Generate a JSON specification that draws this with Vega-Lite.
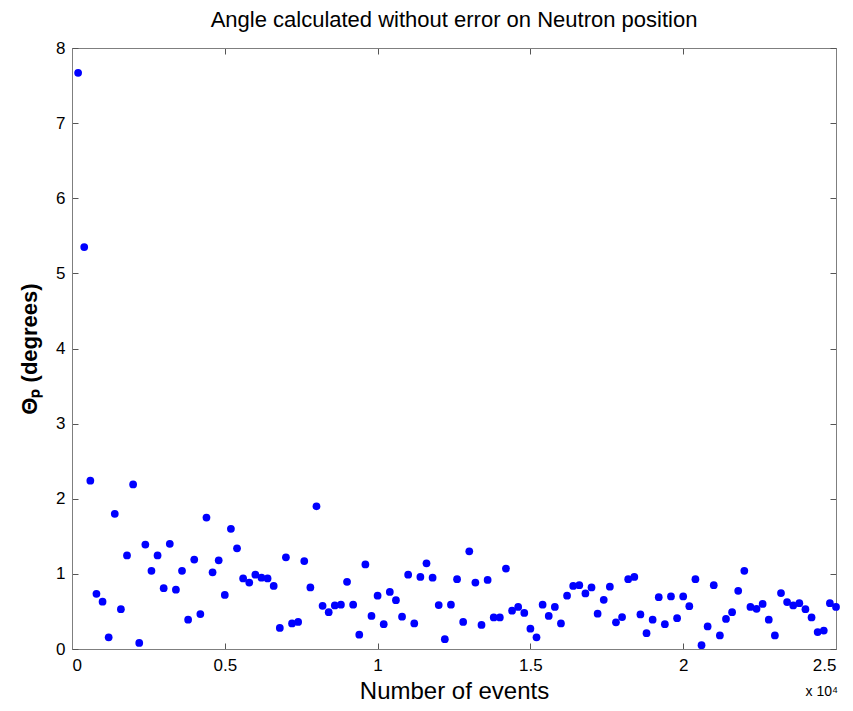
{
  "$schema": "https://vega.github.io/schema/vega-lite/v6.json",
  "width": 764,
  "height": 601,
  "autosize": {"type": "none"},
  "padding": {"left": 72, "top": 48, "right": 17, "bottom": 62},
  "background": "white",
  "config": {
    "font": "Liberation Sans",
    "view": {"stroke": "#7f7f7f", "strokeWidth": 1},
    "axis": {
      "grid": false,
      "domainColor": "#7f7f7f",
      "tickColor": "#555555",
      "tickSize": -6,
      "labelColor": "black",
      "labelFont": "Liberation Sans",
      "labelFontSize": 17,
      "titleColor": "black",
      "titleFont": "Liberation Sans"
    }
  },
  "title": {
    "text": "Angle calculated without error on Neutron position",
    "fontSize": 22,
    "fontWeight": "normal",
    "font": "Liberation Sans",
    "color": "black",
    "offset": 7,
    "anchor": "middle"
  },
  "data": {
    "values": [
      {"events": 200, "theta": 7.67}, {"events": 400, "theta": 5.35}, {"events": 600, "theta": 2.24}, {"events": 800, "theta": 0.735}, {"events": 1000, "theta": 0.63},
      {"events": 1200, "theta": 0.155}, {"events": 1400, "theta": 1.80}, {"events": 1600, "theta": 0.53}, {"events": 1800, "theta": 1.245}, {"events": 2000, "theta": 2.19},
      {"events": 2200, "theta": 0.08}, {"events": 2400, "theta": 1.39}, {"events": 2600, "theta": 1.04}, {"events": 2800, "theta": 1.245}, {"events": 3000, "theta": 0.81},
      {"events": 3200, "theta": 1.40}, {"events": 3400, "theta": 0.79}, {"events": 3600, "theta": 1.04}, {"events": 3800, "theta": 0.39}, {"events": 4000, "theta": 1.19},
      {"events": 4200, "theta": 0.465}, {"events": 4400, "theta": 1.75}, {"events": 4600, "theta": 1.02}, {"events": 4800, "theta": 1.18}, {"events": 5000, "theta": 0.72},
      {"events": 5200, "theta": 1.60}, {"events": 5400, "theta": 1.34}, {"events": 5600, "theta": 0.94}, {"events": 5800, "theta": 0.885}, {"events": 6000, "theta": 0.99},
      {"events": 6200, "theta": 0.95}, {"events": 6400, "theta": 0.94}, {"events": 6600, "theta": 0.84}, {"events": 6800, "theta": 0.28}, {"events": 7000, "theta": 1.22},
      {"events": 7200, "theta": 0.34}, {"events": 7400, "theta": 0.36}, {"events": 7600, "theta": 1.17}, {"events": 7800, "theta": 0.82}, {"events": 8000, "theta": 1.90},
      {"events": 8200, "theta": 0.575}, {"events": 8400, "theta": 0.49}, {"events": 8600, "theta": 0.58}, {"events": 8800, "theta": 0.59}, {"events": 9000, "theta": 0.895},
      {"events": 9200, "theta": 0.59}, {"events": 9400, "theta": 0.19}, {"events": 9600, "theta": 1.125}, {"events": 9800, "theta": 0.44}, {"events": 10000, "theta": 0.71},
      {"events": 10200, "theta": 0.33}, {"events": 10400, "theta": 0.76}, {"events": 10600, "theta": 0.65}, {"events": 10800, "theta": 0.43}, {"events": 11000, "theta": 0.99},
      {"events": 11200, "theta": 0.34}, {"events": 11400, "theta": 0.96}, {"events": 11600, "theta": 1.14}, {"events": 11800, "theta": 0.95}, {"events": 12000, "theta": 0.585},
      {"events": 12200, "theta": 0.13}, {"events": 12400, "theta": 0.59}, {"events": 12600, "theta": 0.93}, {"events": 12800, "theta": 0.36}, {"events": 13000, "theta": 1.30},
      {"events": 13200, "theta": 0.885}, {"events": 13400, "theta": 0.32}, {"events": 13600, "theta": 0.92}, {"events": 13800, "theta": 0.42}, {"events": 14000, "theta": 0.42},
      {"events": 14200, "theta": 1.07}, {"events": 14400, "theta": 0.51}, {"events": 14600, "theta": 0.56}, {"events": 14800, "theta": 0.48}, {"events": 15000, "theta": 0.27},
      {"events": 15200, "theta": 0.155}, {"events": 15400, "theta": 0.59}, {"events": 15600, "theta": 0.44}, {"events": 15800, "theta": 0.56}, {"events": 16000, "theta": 0.34},
      {"events": 16200, "theta": 0.71}, {"events": 16400, "theta": 0.84}, {"events": 16600, "theta": 0.85}, {"events": 16800, "theta": 0.74}, {"events": 17000, "theta": 0.82},
      {"events": 17200, "theta": 0.47}, {"events": 17400, "theta": 0.655}, {"events": 17600, "theta": 0.83}, {"events": 17800, "theta": 0.355}, {"events": 18000, "theta": 0.425},
      {"events": 18200, "theta": 0.93}, {"events": 18400, "theta": 0.96}, {"events": 18600, "theta": 0.46}, {"events": 18800, "theta": 0.21}, {"events": 19000, "theta": 0.39},
      {"events": 19200, "theta": 0.69}, {"events": 19400, "theta": 0.33}, {"events": 19600, "theta": 0.70}, {"events": 19800, "theta": 0.41}, {"events": 20000, "theta": 0.70},
      {"events": 20200, "theta": 0.57}, {"events": 20400, "theta": 0.93}, {"events": 20600, "theta": 0.05}, {"events": 20800, "theta": 0.30}, {"events": 21000, "theta": 0.85},
      {"events": 21200, "theta": 0.18}, {"events": 21400, "theta": 0.40}, {"events": 21600, "theta": 0.49}, {"events": 21800, "theta": 0.775}, {"events": 22000, "theta": 1.04},
      {"events": 22200, "theta": 0.56}, {"events": 22400, "theta": 0.535}, {"events": 22600, "theta": 0.60}, {"events": 22800, "theta": 0.39}, {"events": 23000, "theta": 0.18},
      {"events": 23200, "theta": 0.745}, {"events": 23400, "theta": 0.625}, {"events": 23600, "theta": 0.58}, {"events": 23800, "theta": 0.61}, {"events": 24000, "theta": 0.53},
      {"events": 24200, "theta": 0.42}, {"events": 24400, "theta": 0.225}, {"events": 24600, "theta": 0.245}, {"events": 24800, "theta": 0.61}, {"events": 25000, "theta": 0.56}
    ]
  },
  "resolve": {"axis": {"x": "independent", "y": "independent"}},
  "layer": [
    {
      "mark": {"type": "point", "filled": true, "size": 60, "color": "#0000ff", "opacity": 1, "clip": false},
      "encoding": {
        "x": {
          "field": "events", "type": "quantitative",
          "scale": {"domain": [0, 25000], "nice": false, "zero": false},
          "axis": {
            "values": [0, 5000, 10000, 15000, 20000, 25000],
            "labelExpr": "datum.value / 10000",
            "labelPadding": 14,
            "title": "Number of events",
            "titleFontSize": 24,
            "titleFontWeight": "normal",
            "titlePadding": 6
          }
        },
        "y": {
          "field": "theta", "type": "quantitative",
          "scale": {"domain": [0, 8], "nice": false},
          "axis": {
            "values": [0, 1, 2, 3, 4, 5, 6, 7, 8],
            "labelPadding": 13,
            "title": "Θₚ (degrees)",
            "titleFontSize": 22,
            "titleFontWeight": "bold",
            "titlePadding": 14
          }
        }
      }
    },
    {
      "mark": {"type": "point", "opacity": 0},
      "encoding": {
        "x": {
          "field": "events", "type": "quantitative",
          "scale": {"domain": [0, 25000], "nice": false, "zero": false},
          "axis": {"orient": "top", "values": [0, 5000, 10000, 15000, 20000, 25000], "labels": false, "title": null}
        },
        "y": {
          "field": "theta", "type": "quantitative",
          "scale": {"domain": [0, 8], "nice": false},
          "axis": {"orient": "right", "values": [0, 1, 2, 3, 4, 5, 6, 7, 8], "labels": false, "title": null}
        }
      }
    },
    {
      "data": {"values": [{"events": 25000, "theta": 0, "note": "x 10⁴"}]},
      "mark": {"type": "text", "align": "right", "baseline": "middle", "dy": 43, "dx": 2, "fontSize": 14, "font": "Liberation Sans", "color": "black"},
      "encoding": {
        "x": {"field": "events", "type": "quantitative", "axis": null},
        "y": {"field": "theta", "type": "quantitative", "axis": null},
        "text": {"field": "note"}
      }
    }
  ]
}
